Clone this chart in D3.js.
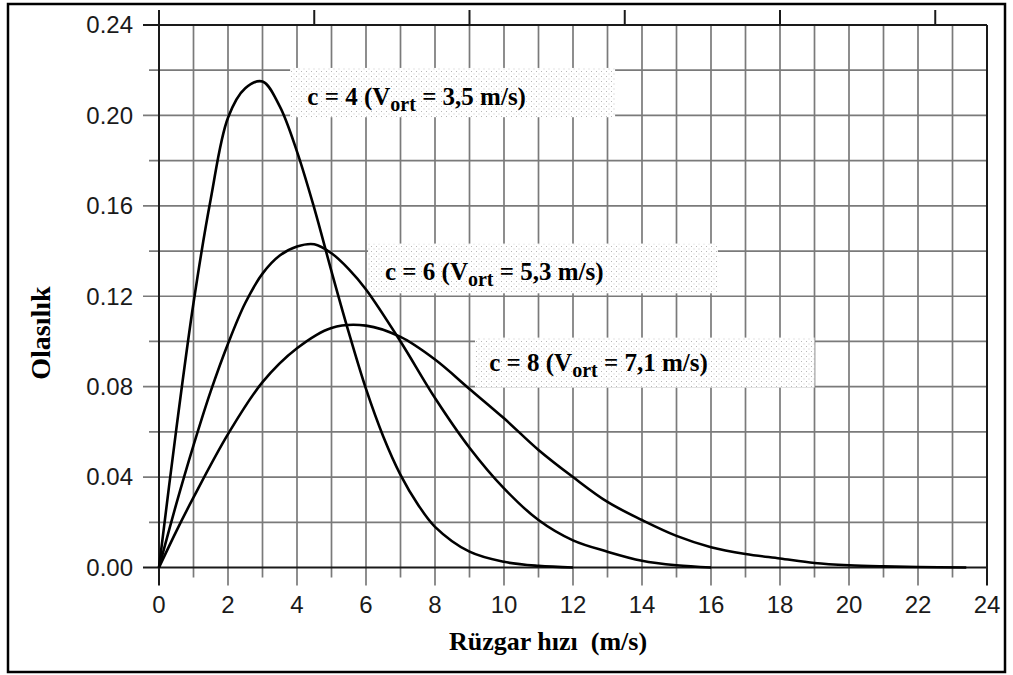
<!DOCTYPE html>
<html>
<head>
<meta charset="utf-8">
<script src="https://cdn.jsdelivr.net/npm/d3@7"></script>
<style>
  body { margin: 0; background: #fff; }
  svg { display: block; }
</style>
</head>
<body>
<script>
// Weibull (k = 2) wind speed distributions

var speedsC4 = [0, 0.5, 1, 1.5, 2, 2.5, 3, 3.5, 4, 4.5, 5, 5.5, 6, 6.5, 7, 7.5, 8, 9, 10, 11, 12],
    probC4 = [0, 0.061, 0.117, 0.163, 0.199, 0.212, 0.215, 0.204, 0.184, 0.159, 0.131, 0.104, 0.079, 0.058, 0.041, 0.028, 0.018, 0.007, 0.0025, 0.0007, 0];

var speedsC6 = [0, 0.5, 1, 1.5, 2, 2.5, 3, 3.5, 4, 4.5, 5, 5.5, 6, 7, 8, 9, 10, 11, 12, 13, 14, 15, 16],
    probC6 = [0, 0.028, 0.054, 0.078, 0.099, 0.117, 0.130, 0.138, 0.142, 0.143, 0.139, 0.132, 0.123, 0.100, 0.075, 0.053, 0.035, 0.021, 0.012, 0.007, 0.003, 0.001, 0];

var speedsC8 = [0, 0.5, 1, 2, 3, 4, 5, 6, 7, 8, 9, 10, 11, 12, 13, 14, 15, 16, 17, 18, 19, 20, 21, 22, 23.4],
    probC8 = [0, 0.016, 0.031, 0.059, 0.082, 0.097, 0.106, 0.107, 0.102, 0.092, 0.079, 0.066, 0.052, 0.040, 0.029, 0.021, 0.014, 0.009, 0.006, 0.004, 0.002, 0.001, 0.0005, 0.0002, 0];

var labelMain = ["c = 4 (V", "c = 6 (V", "c = 8 (V"],
    labelSub = "ort",
    labelTail = [" = 3,5 m/s)", " = 5,3 m/s)", " = 7,1 m/s)"];

var xTicks = d3.range(0, 25, 2),
    yTicks = [0, 0.04, 0.08, 0.12, 0.16, 0.20, 0.24],
    topTicks = [0, 4.5, 9, 13.5, 18, 22.5];

var xTitle = "Rüzgar hızı  (m/s)",
    yTitle = "Olasılık";

var W = 1013, H = 675;
// note: "top" is taken by window.top, so plot edges get their own names
var plotL = 159, plotR = 987, plotT = 25, plotB = 567.5;

var x = d3.scaleLinear().domain([0, 24]).range([plotL, plotR]);
var y = d3.scaleLinear().domain([0, 0.24]).range([plotB, plotT]);

var svg = d3.select("body").append("svg")
  .attr("width", W)
  .attr("height", H);

// dotted fill for the label boxes
var pat = svg.append("defs").append("pattern")
  .attr("id", "dots")
  .attr("width", 5).attr("height", 5)
  .attr("patternUnits", "userSpaceOnUse");
pat.append("rect").attr("width", 5).attr("height", 5).attr("fill", "#fff");
pat.append("rect").attr("x", 1).attr("y", 1).attr("width", 1).attr("height", 1).attr("fill", "#b8b8b8");
pat.append("rect").attr("x", 3.5).attr("y", 3.5).attr("width", 1).attr("height", 1).attr("fill", "#c8c8c8");

// outer frame
svg.append("rect")
  .attr("x", 8).attr("y", 4)
  .attr("width", 997).attr("height", 668)
  .attr("fill", "none").attr("stroke", "#000").attr("stroke-width", 2.5);

var grid = svg.append("g");
var gridColor = "#7a7a7a";

// vertical grid every 1 m/s, with ticks below axis
grid.selectAll("line.v").data(d3.range(1, 24))
  .enter().append("line")
  .attr("x1", function(d){return x(d)}).attr("x2", function(d){return x(d)})
  .attr("y1", plotT)
  .attr("y2", function(d){return plotB + (d % 2 === 0 ? 18 : 10)})
  .attr("stroke", gridColor).attr("stroke-width", 1.7);

// horizontal grid every 0.02
grid.selectAll("line.h").data(d3.range(1, 12).map(function(i){return i * 0.02}))
  .enter().append("line")
  .attr("x1", function(d, i){return plotL - (i % 2 === 1 ? 16 : 10)})
  .attr("x2", plotR)
  .attr("y1", function(d){return y(d)}).attr("y2", function(d){return y(d)})
  .attr("stroke", gridColor).attr("stroke-width", 1.7);

// frame of the plot
var axisColor = "#1a1a1a";
svg.append("line").attr("x1", plotL - 16).attr("x2", plotR)
  .attr("y1", y(0)).attr("y2", y(0)).attr("stroke", axisColor).attr("stroke-width", 2);
svg.append("line").attr("x1", plotL - 16).attr("x2", plotR)
  .attr("y1", y(0.24)).attr("y2", y(0.24)).attr("stroke", axisColor).attr("stroke-width", 2);
svg.append("line").attr("x1", x(0)).attr("x2", x(0))
  .attr("y1", plotB + 18).attr("y2", plotT).attr("stroke", axisColor).attr("stroke-width", 2);
svg.append("line").attr("x1", x(24)).attr("x2", x(24))
  .attr("y1", plotB + 18).attr("y2", plotT).attr("stroke", axisColor).attr("stroke-width", 2);

// top secondary ticks (no labels)
svg.selectAll("line.top").data(topTicks)
  .enter().append("line")
  .attr("x1", function(d){return x(d)}).attr("x2", function(d){return x(d)})
  .attr("y1", plotT).attr("y2", plotT - 15)
  .attr("stroke", axisColor).attr("stroke-width", 2);

// tick labels
var tickFont = "'Liberation Sans', Arial, Helvetica, sans-serif";
svg.selectAll("text.xt").data(xTicks)
  .enter().append("text")
  .attr("x", function(d){return x(d)})
  .attr("y", 613)
  .attr("text-anchor", "middle")
  .style("font-family", tickFont).style("font-size", "24px").attr("fill", "#1a1a1a")
  .text(function(d){return d});

svg.selectAll("text.yt").data(yTicks)
  .enter().append("text")
  .attr("x", 133)
  .attr("y", function(d){return y(d)})
  .attr("dy", "0.35em")
  .attr("text-anchor", "end")
  .style("font-family", tickFont).style("font-size", "24px").attr("fill", "#1a1a1a")
  .text(function(d){return d.toFixed(2)});

// label boxes, placed in data units
var boxes = [
  {x0: 3.8, x1: 13.22, y0: 0.2210, y1: 0.1992, tx: 4.3, ty: 0.2045},
  {x0: 6.06, x1: 16.2, y0: 0.1433, y1: 0.1213, tx: 6.55, ty: 0.1270},
  {x0: 9.16, x1: 19.0, y0: 0.1017, y1: 0.0796, tx: 9.57, ty: 0.0870}
];

var lab = svg.selectAll("g.lab").data(boxes).enter().append("g");
lab.append("rect")
  .attr("x", function(d){return x(d.x0)})
  .attr("y", function(d){return y(d.y0)})
  .attr("width", function(d){return x(d.x1) - x(d.x0)})
  .attr("height", function(d){return y(d.y1) - y(d.y0)})
  .attr("fill", "url(#dots)");

var serif = "'Liberation Serif', 'Times New Roman', serif";
var t = lab.append("text")
  .attr("x", function(d){return x(d.tx)})
  .attr("y", function(d){return y(d.ty)})
  .style("font-family", serif).style("font-weight", "bold").style("font-size", "25px")
  .attr("fill", "#000");
t.append("tspan").text(function(d, i){return labelMain[i]});
t.append("tspan").attr("dy", 6).style("font-size", "20px").text(labelSub);
t.append("tspan").attr("dy", -6).style("white-space", "pre").text(function(d, i){return labelTail[i]});

// curves
var series = [
  {s: speedsC4, p: probC4},
  {s: speedsC6, p: probC6},
  {s: speedsC8, p: probC8}
];
var line = d3.line()
  .x(function(d){return x(d[0])})
  .y(function(d){return y(Math.max(0, d[1]))})
  .curve(d3.curveCatmullRom.alpha(0.5));

svg.selectAll("path.curve").data(series)
  .enter().append("path")
  .attr("d", function(d){return line(d.s.map(function(v, i){return [v, d.p[i]]}))})
  .attr("fill", "none")
  .attr("stroke", "#000")
  .attr("stroke-width", 2.6)
  .attr("stroke-linejoin", "round");

// axis titles
svg.append("text")
  .attr("x", 548).attr("y", 650)
  .attr("text-anchor", "middle")
  .style("font-family", serif).style("font-weight", "bold").style("font-size", "26px")
  .style("white-space", "pre")
  .text(xTitle);

svg.append("text")
  .attr("transform", "translate(50,333) rotate(-90)")
  .attr("text-anchor", "middle")
  .style("font-family", serif).style("font-weight", "bold").style("font-size", "28px")
  .text(yTitle);
</script>
</body>
</html>
